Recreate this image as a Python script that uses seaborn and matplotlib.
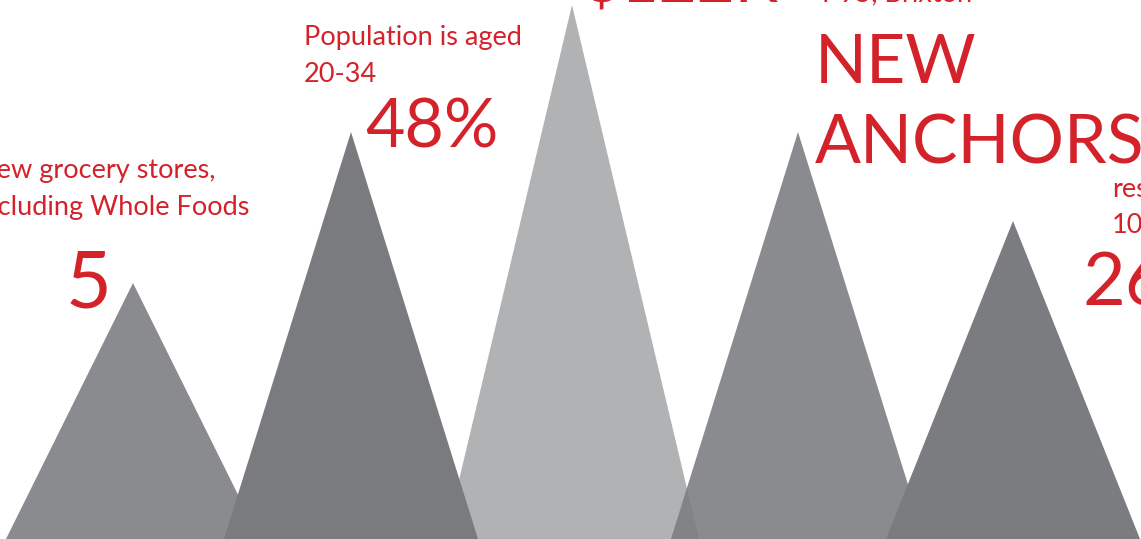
import numpy as np
import seaborn as sns
from matplotlib import pyplot as plt

# peaks, left to right (x of apex, height above base)
peak_x = [133, 351, 572, 798, 1013]
peak_h = [256, 407, 534, 407, 318]
half_base = 127
peak_colors = ["#8a8b8f", "#7a7b7f", "#b1b2b4", "#7d7e82", "#7b7c80"]
peak_alpha = [1.0, 1.0, 1.0, 0.9, 1.0]
draw_order = [0, 2, 1, 3, 4]

# annotation text
captions = [["New grocery stores,", "including Whole Foods"],
            ["Population is aged", "20-34"],
            ["I-95, Brixton"],
            ["residents", "10"]]
big_values = ["5", "48%", "$122K", "NEW\nANCHORS", "26"]

RED = "#d3222a"
W, H = 1141, 539

sns.set_theme(style="white")
plt.rcParams["font.family"] = ["Lato", "DejaVu Sans"]

fig = plt.figure(figsize=(W / 100, H / 100), dpi=100)
ax = fig.add_axes([0, 0, 1, 1])
ax.set_xlim(0, W)
ax.set_ylim(0, H)
ax.axis("off")

for z, i in enumerate(draw_order):
    xs = [peak_x[i] - half_base, peak_x[i], peak_x[i] + half_base]
    ys = [0, peak_h[i], 0]
    ax.fill(xs, ys, color=peak_colors[i], alpha=peak_alpha[i],
            lw=0, zorder=z + 1)

small = 19.5
txt = dict(color=RED, zorder=10, va="baseline", ha="left")


def caption(lines, x, y_top, gap=37):
    # y_top is the pixel baseline of the first line
    for k, line in enumerate(lines):
        ax.text(x, H - (y_top + k * gap), line, fontsize=small, **txt)


# first peak
caption(captions[0], -24, 178)
ax.text(66, H - 308, big_values[0], fontsize=57, **txt)

# second peak
caption(captions[1], 304, 45)
ax.text(365, H - 148, big_values[1], fontsize=49, **txt)

# third peak (cut at the top)
ax.text(584, H - 2, big_values[2], fontsize=47, **txt)

# fourth peak
caption(captions[2], 822, 1)
ax.text(815, H - 83, "NEW", fontsize=49, **txt)
ax.text(815, H - 163, "ANCHORS", fontsize=49, **txt)

# fifth peak
caption(captions[3], 1112, 197, gap=36)
ax.text(1082, H - 305, big_values[4], fontsize=53, **txt)

fig.savefig("out.png", dpi=100)
